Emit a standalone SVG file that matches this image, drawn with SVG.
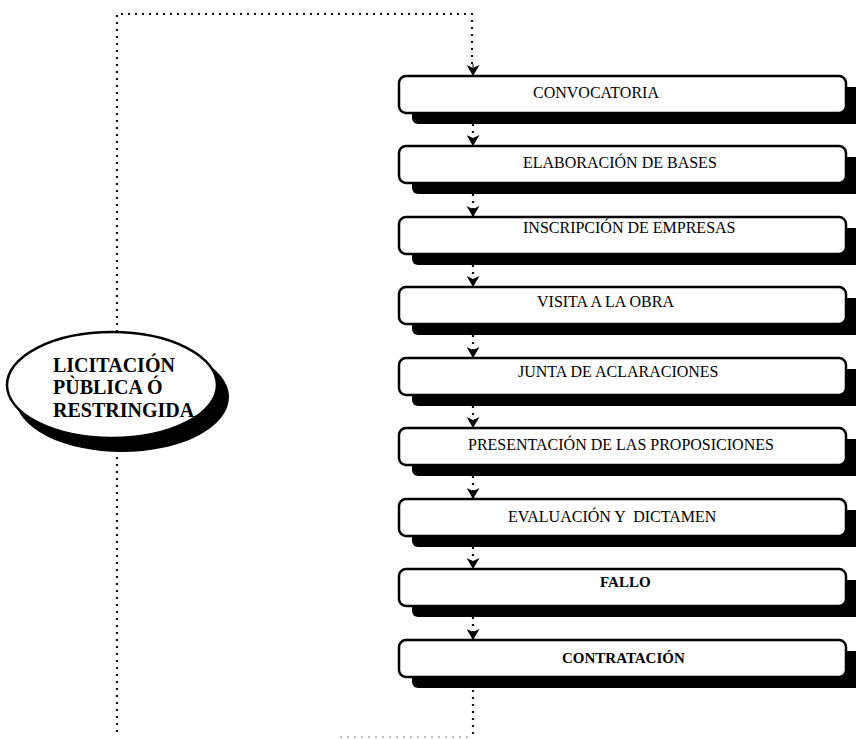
<svg xmlns="http://www.w3.org/2000/svg" width="856" height="739" viewBox="0 0 856 739">
<style>
.dot{fill:none;stroke:#111;stroke-width:2.2;stroke-dasharray:2 5}
.dotg{fill:none;stroke:#aaa;stroke-width:1.5;stroke-dasharray:2 5}
.shadow{fill:#000}
.box{fill:#fff;stroke:#000;stroke-width:2.5}
.lbl{font-family:"Liberation Serif","Times New Roman",serif;font-size:16px;fill:#000}
.lblb{font-family:"Liberation Serif","Times New Roman",serif;font-size:15px;font-weight:bold;fill:#000}
.big{font-family:"Liberation Serif","Times New Roman",serif;font-size:20px;font-weight:bold;fill:#000}
</style>
<defs>
<marker id="arr" viewBox="0 0 12 13" refX="11" refY="6.5" markerWidth="12" markerHeight="13" markerUnits="userSpaceOnUse" orient="auto">
<path d="M0,0 L11,6.5 L0,13 L3,6.5 Z" fill="#000"/>
</marker>
</defs>
<rect width="856" height="739" fill="#fff"/>

<g id="connectors">
<polyline class="dot" points="117,732 117,446"/>
<polyline class="dot" points="117,332 117,14 472,14 472,64"/>
<line x1="473" y1="64" x2="473" y2="76" stroke="#000" stroke-width="1" marker-end="url(#arr)"/>
<line class="dot" x1="473" y1="124" x2="473" y2="146" marker-end="url(#arr)"/>
<line class="dot" x1="473" y1="194" x2="473" y2="217" marker-end="url(#arr)"/>
<line class="dot" x1="473" y1="265" x2="473" y2="287" marker-end="url(#arr)"/>
<line class="dot" x1="473" y1="335" x2="473" y2="358" marker-end="url(#arr)"/>
<line class="dot" x1="473" y1="406" x2="473" y2="428" marker-end="url(#arr)"/>
<line class="dot" x1="473" y1="476" x2="473" y2="499" marker-end="url(#arr)"/>
<line class="dot" x1="473" y1="547" x2="473" y2="569" marker-end="url(#arr)"/>
<line class="dot" x1="473" y1="617" x2="473" y2="640" marker-end="url(#arr)"/>
<line class="dot" x1="473" y1="690" x2="473" y2="734"/>
<line class="dotg" x1="340" y1="737" x2="472" y2="737"/>
</g>

<g id="licitacion">
<ellipse cx="122" cy="397" rx="107" ry="55" class="shadow"/>
<ellipse cx="112" cy="385" rx="105" ry="53" class="box"/>
<text class="big" x="53" y="372">LICITACIÓN</text>
<text class="big" x="53" y="394">PÙBLICA Ó</text>
<text class="big" x="53" y="417">RESTRINGIDA</text>
</g>

<g id="convocatoria">
<rect x="412" y="87" width="450" height="37" rx="6" class="shadow"/>
<rect x="399" y="76" width="447" height="37" rx="7" class="box"/>
<text class="lbl" x="533" y="98">CONVOCATORIA</text>
</g>
<g id="elaboracion">
<rect x="412" y="157" width="450" height="37" rx="6" class="shadow"/>
<rect x="399" y="146" width="447" height="37" rx="7" class="box"/>
<text class="lbl" x="523" y="168">ELABORACIÓN DE BASES</text>
</g>
<g id="inscripcion">
<rect x="412" y="228" width="450" height="37" rx="6" class="shadow"/>
<rect x="399" y="217" width="447" height="37" rx="7" class="box"/>
<text class="lbl" x="523" y="233">INSCRIPCIÓN DE EMPRESAS</text>
</g>
<g id="visita">
<rect x="412" y="298" width="450" height="37" rx="6" class="shadow"/>
<rect x="399" y="287" width="447" height="37" rx="7" class="box"/>
<text class="lbl" x="537" y="307">VISITA A LA OBRA</text>
</g>
<g id="junta">
<rect x="412" y="369" width="450" height="37" rx="6" class="shadow"/>
<rect x="399" y="358" width="447" height="37" rx="7" class="box"/>
<text class="lbl" x="518" y="377">JUNTA DE ACLARACIONES</text>
</g>
<g id="presentacion">
<rect x="412" y="439" width="450" height="37" rx="6" class="shadow"/>
<rect x="399" y="428" width="447" height="37" rx="7" class="box"/>
<text class="lbl" x="468" y="450">PRESENTACIÓN DE LAS PROPOSICIONES</text>
</g>
<g id="evaluacion">
<rect x="412" y="510" width="450" height="37" rx="6" class="shadow"/>
<rect x="399" y="499" width="447" height="37" rx="7" class="box"/>
<text class="lbl" x="508" y="522" xml:space="preserve">EVALUACIÓN Y  DICTAMEN</text>
</g>
<g id="fallo">
<rect x="412" y="580" width="450" height="37" rx="6" class="shadow"/>
<rect x="399" y="569" width="447" height="37" rx="7" class="box"/>
<text class="lblb" x="600" y="587">FALLO</text>
</g>
<g id="contratacion">
<rect x="412" y="651" width="450" height="37" rx="6" class="shadow"/>
<rect x="399" y="640" width="447" height="37" rx="7" class="box"/>
<text class="lblb" x="562" y="663">CONTRATACIÓN</text>
</g>
</svg>
